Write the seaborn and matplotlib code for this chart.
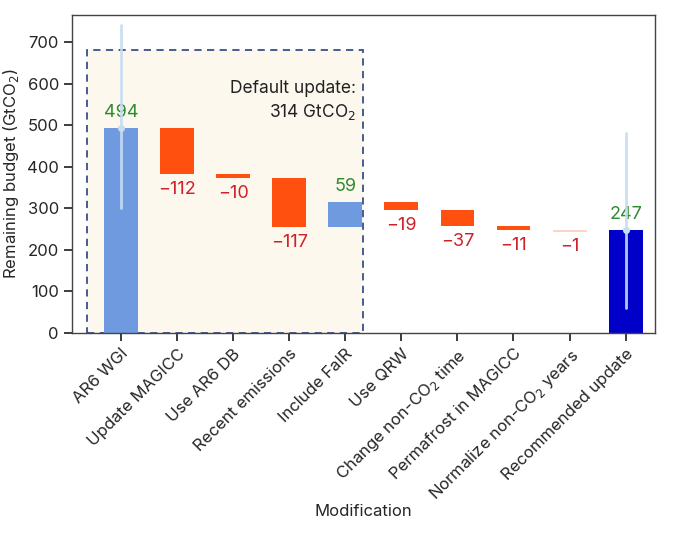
import numpy as np
import matplotlib.pyplot as plt
import seaborn as sns
from matplotlib.patches import Rectangle

sns.set_theme(style="ticks")
plt.rcParams['font.family'] = ['Inter', 'DejaVu Sans']

steps = ["AR6 WGI", "Update MAGICC", "Use AR6 DB", "Recent emissions", "Include FaIR",
         "Use QRW", "Change non-CO$_2$ time", "Permafrost in MAGICC",
         "Normalize non-CO$_2$ years", "Recommended update"]
changes = [494, -112, -10, -117, 59, -19, -37, -11, -1, 247]
kinds = ["total", "step", "step", "step", "step", "step", "step", "step", "step", "total"]
err_low = [300, None, None, None, None, None, None, None, None, 60]
err_high = [740, None, None, None, None, None, None, None, None, 480]

colors = {"total_first": "#6f9ae0", "up": "#6f9ae0", "down": "#ff5010", "total_last": "#0000c8"}

fig, ax = plt.subplots(figsize=(6.8, 5.36), dpi=100)
fig.subplots_adjust(left=0.106, right=0.963, bottom=0.379, top=0.972)

# dashed box for the default update
ax.add_patch(Rectangle((-0.6, 0), 4.92, 680, facecolor="#fdf8ee", edgecolor="#3a4f8a",
                       linestyle=(0, (4, 3)), linewidth=1.3, zorder=0))
ax.text(4.2, 608, "Default update:\n314 GtCO$_2$", ha="right", va="top",
        fontsize=12.5, color="#222222", linespacing=1.35)

level = 0
x = np.arange(len(steps))
for i, (c, k) in enumerate(zip(changes, kinds)):
    lw, ec = 0, "none"
    if k == "total":
        bottom, height = 0, c
        col = colors["total_first"] if i == 0 else colors["total_last"]
        level = c
    else:
        if c > 0:
            bottom, height = level, c
            col = colors["up"]
        else:
            bottom, height = level + c, -c
            col = colors["down"]
            if c == -1:
                col, ec, lw = "#fbd0c4", "#fbd0c4", 0.6
        level += c
    ax.bar(x[i], height, bottom=bottom, width=0.6, color=col, edgecolor=ec,
           linewidth=lw, zorder=2)
    if c > 0:
        ax.annotate(f"{c}", (x[i], bottom + height), xytext=(0, 5),
                    textcoords="offset points", ha="center", va="bottom",
                    color="#2e8b2e", fontsize=13)
    else:
        ax.annotate(f"\u2212{-c}", (x[i], bottom), xytext=(0, -5),
                    textcoords="offset points", ha="center", va="top",
                    color="#d0202a", fontsize=13)
    if err_low[i] is not None:
        ax.plot([x[i], x[i]], [err_low[i], err_high[i]], color="#c6dcf2",
                linewidth=2, alpha=0.9, zorder=3)
        ax.plot(x[i], c, "o", color="#c6dcf2", markersize=4, zorder=3)

ax.set_xlim(-0.87, 9.52)
ax.set_ylim(0, 765)
ax.set_yticks(range(0, 701, 100))
ax.set_xticks(x)
ax.set_xticklabels(steps, rotation=45, ha="right", rotation_mode="anchor", fontsize=12)
ax.tick_params(axis="y", labelsize=12)
ax.set_ylabel("Remaining budget (GtCO$_2$)", fontsize=12)
ax.set_xlabel("Modification", fontsize=12, labelpad=0)
for s in ax.spines.values():
    s.set_color("#444444")
    s.set_linewidth(1)

plt.savefig("out.png", dpi=100)
